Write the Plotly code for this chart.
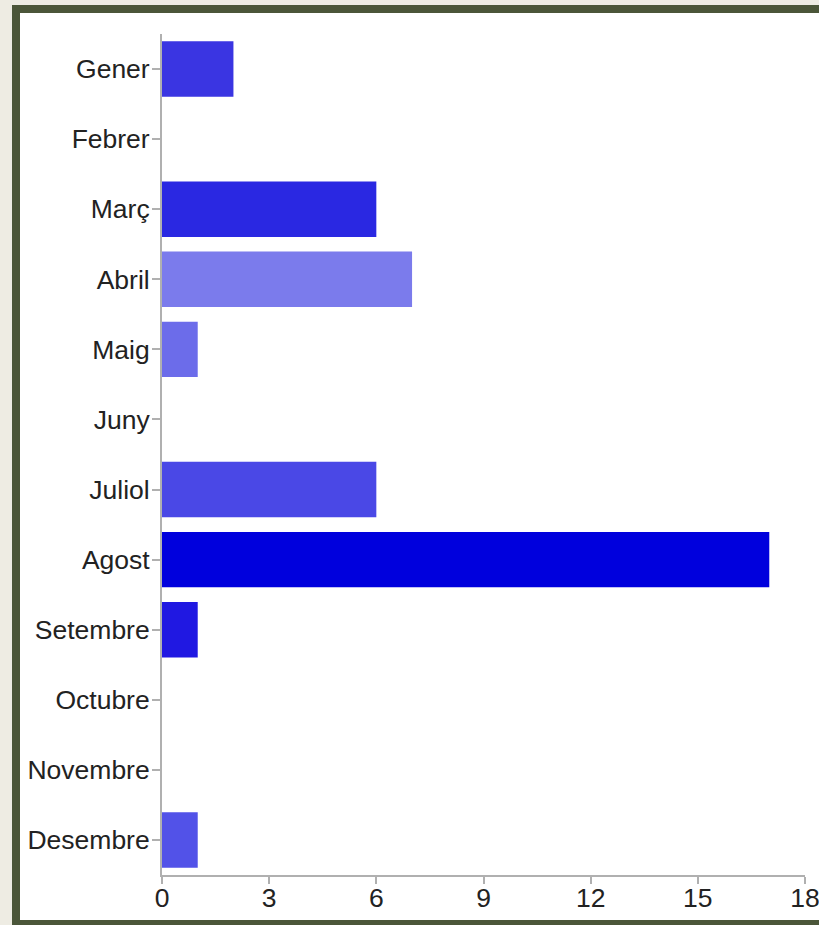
import plotly.graph_objects as go

months = ['Gener', 'Febrer', 'Març', 'Abril', 'Maig', 'Juny', 'Juliol',
          'Agost', 'Setembre', 'Octubre', 'Novembre', 'Desembre']
counts = [2, 0, 6, 7, 1, 0, 6, 17, 1, 0, 0, 1]
bar_colors = ['#3a35e2', '#3a35e2', '#2a28e2', '#7b7bec', '#6c6cea', '#6c6cea',
              '#4a48e6', '#0000dd', '#2018e2', '#2018e2', '#5252e8', '#5252e8']
x_ticks = [0, 3, 6, 9, 12, 15, 18]

W, H = 819, 925
ml, mr, mt, mb = 162, 14, 34, 50
pw, ph = W - ml - mr, H - mt - mb


def px_x(p):
    return (p - ml) / pw


def px_y(p):
    return 1 - (p - mt) / ph


fig = go.Figure(go.Bar(
    x=counts, y=months, orientation='h',
    marker=dict(color=bar_colors, line=dict(width=0)),
))

# white card with dark green frame on beige paper
fig.add_shape(type='rect', xref='paper', yref='paper', layer='below',
              x0=px_x(16), x1=px_x(840), y0=px_y(9), y1=px_y(924),
              fillcolor='white', line=dict(color='#4b5639', width=8))

fig.update_layout(
    width=W, height=H,
    margin=dict(l=ml, r=mr, t=mt, b=mb),
    paper_bgcolor='#eeece3', plot_bgcolor='rgba(0,0,0,0)',
    font=dict(family='Liberation Sans, Arial, sans-serif', size=26.5, color='#222'),
    bargap=0.21, showlegend=False,
)
fig.update_xaxes(range=[0, 18], tickvals=x_ticks, showgrid=False, zeroline=False,
                 showline=True, linecolor='#b0b0b0', linewidth=2,
                 ticks='outside', ticklen=7, tickcolor='#b0b0b0', tickwidth=2,
                 ticklabeloverflow='allow', ticklabelstandoff=-9, automargin=False)
fig.update_yaxes(autorange='reversed', showgrid=False, zeroline=False,
                 showline=True, linecolor='#b0b0b0', linewidth=2,
                 ticks='outside', ticklen=8, tickcolor='#b0b0b0', tickwidth=2,
                 ticklabelstandoff=-3, automargin=False)

page_js = ("for (const el of [document.documentElement, document.body]) {"
           "el.style.margin='0'; el.style.padding='0'; el.style.overflow='hidden';"
           "el.style.height='925px'; el.style.background='#eeece3';}")

fig.write_html("out.html", config={'displayModeBar': False}, post_script=page_js)
